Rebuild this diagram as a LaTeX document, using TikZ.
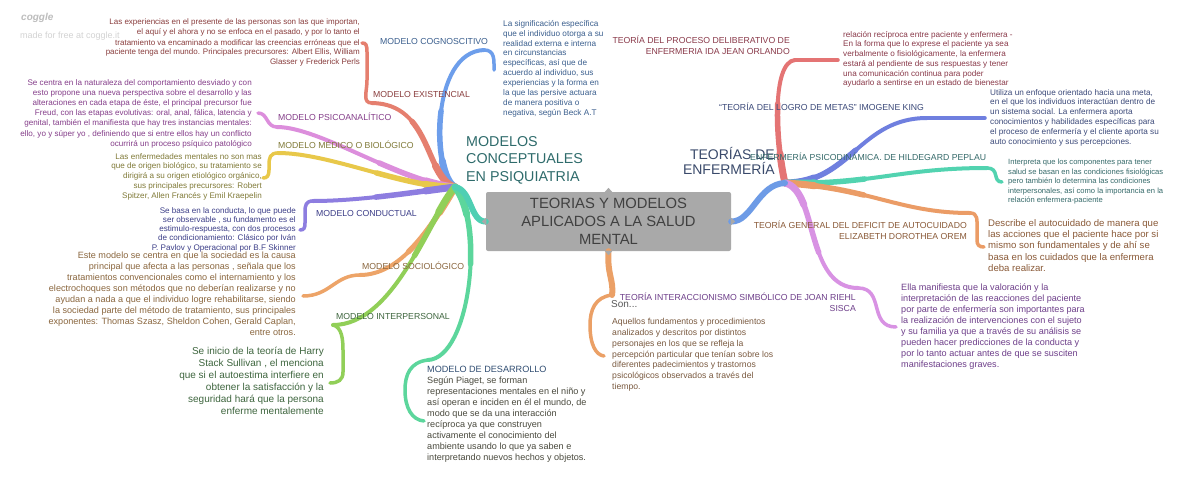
\documentclass[tikz,border=0pt]{standalone}
\usepackage{fontspec}
\setmainfont{Liberation Sans}
\usetikzlibrary{positioning}

\definecolor{boxgray}{HTML}{A9A9A9}
\definecolor{wmgray}{HTML}{BDBDBD}
\definecolor{wmlight}{HTML}{D3D3D3}
\definecolor{cTeal}{HTML}{4FCFB3}
\definecolor{cBlueR}{HTML}{6D9BE6}
\definecolor{cBot}{HTML}{EBA066}
\definecolor{cCog}{HTML}{6D9EEB}
\definecolor{cEx}{HTML}{E57F6F}
\definecolor{cPs}{HTML}{DC8EDC}
\definecolor{cMed}{HTML}{E8C84A}
\definecolor{cCon}{HTML}{8D7DE0}
\definecolor{cSoc}{HTML}{EDA468}
\definecolor{cInt}{HTML}{91CF58}
\definecolor{cDes}{HTML}{5CD69C}
\definecolor{cOrl}{HTML}{E47474}
\definecolor{cKing}{HTML}{6F7FDF}
\definecolor{cPep}{HTML}{52D3B0}
\definecolor{cOrem}{HTML}{EB9C66}
\definecolor{cSis}{HTML}{D892E3}
\definecolor{tCog}{HTML}{3B5F8E}
\definecolor{tEx}{HTML}{8A3E3E}
\definecolor{tPs}{HTML}{853E8A}
\definecolor{tMed}{HTML}{807A38}
\definecolor{tCon}{HTML}{3C3E88}
\definecolor{tSoc}{HTML}{8A663E}
\definecolor{tInt}{HTML}{3F663F}
\definecolor{tDes}{HTML}{4A4A3E}
\definecolor{tOrl}{HTML}{8A3A4A}
\definecolor{tKing}{HTML}{3C4A7A}
\definecolor{tPep}{HTML}{356A6A}
\definecolor{tOrem}{HTML}{8A5A38}
\definecolor{tSis}{HTML}{6E3F8A}
\definecolor{tBot}{HTML}{7A5A40}
\definecolor{tTitL}{HTML}{2E6B6B}
\definecolor{tTitR}{HTML}{3A4A6B}

% thick near the hub, thinner towards the end
\newcommand\branchline[2]{%
  \draw[line width=4pt, line cap=round, #1] #2;
  \draw[line width=5.5pt, line cap=round, #1, dash pattern=on 80pt off 4000pt] #2;
  \draw[line width=7pt, line cap=round, #1, dash pattern=on 30pt off 4000pt] #2;}

\begin{document}
\begin{tikzpicture}[x=1pt,y=-1pt,
  branch/.style={line width=6pt, line cap=round},
  brack/.style={line width=3.5pt, line cap=round},
  lbl/.style={inner sep=0pt, font=\fontsize{8.7}{10.8}\selectfont},
  desc/.style 2 args={inner sep=0pt, font=\fontsize{#1}{#2}\selectfont},
  mainbox/.style={fill=boxgray, rounded corners=2pt, minimum width=245pt,
    minimum height=59pt, inner sep=0pt, align=center, text=black!75,
    font=\fontsize{14.8}{18}\selectfont}]
 \fill[white] (0,0) rectangle (1200,493);
 \useasboundingbox (0,0) rectangle (1200,493);

 \node[anchor=base west, inner sep=0pt, text=wmgray, font=\fontsize{10}{12}\bfseries\itshape] (logo) at (21,20) {coggle};
 \node[anchor=base west, inner sep=0pt, text=wmlight, font=\fontsize{9}{11}\selectfont] (made) at (20,38) {made for free at coggle.it};

 \coordinate (lhub) at (455,187);
 \coordinate (rhub) at (785,183);
 \coordinate (coge) at (484,50);
 \coordinate (exe) at (372,103);
 \coordinate (pse) at (277,127);
 \coordinate (mede) at (278,153);
 \coordinate (cone) at (313,201);
 \coordinate (soce) at (360,275);
 \coordinate (inte) at (333,325);
 \coordinate (dese) at (428,360);
 \coordinate (orle) at (795,60);
 \coordinate (kinge) at (927,118);
 \coordinate (pepe) at (987,168);
 \coordinate (oreme) at (970,213);
 \coordinate (sise) at (858,288);
 \coordinate (sone) at (612,295);

 % left side
 \branchline{cCog}{(lhub) .. controls (432,175) and (430,52) .. (coge)}
 \branchline{cEx}{(lhub) .. controls (425,178) and (432,104) .. (exe)}
 \branchline{cPs}{(lhub) .. controls (400,182) and (320,127) .. (pse)}
 \branchline{cMed}{(lhub) .. controls (405,188) and (330,153) .. (mede)}
 \branchline{cCon}{(lhub) .. controls (415,192) and (360,201) .. (cone)}
 \branchline{cSoc}{(lhub) .. controls (430,230) and (400,275) .. (soce)}
 \branchline{cInt}{(lhub) .. controls (430,215) and (395,325) .. (inte)}
 \branchline{cDes}{(lhub) .. controls (485,225) and (470,358) .. (dese)}

 % right side
 \branchline{cOrl}{(rhub) .. controls (775,140) and (772,62) .. (orle)}
 \branchline{cKing}{(rhub) .. controls (850,183) and (860,118) .. (kinge)}
 \branchline{cPep}{(rhub) .. controls (870,185) and (900,168) .. (pepe)}
 \branchline{cOrem}{(rhub) .. controls (870,188) and (900,213) .. (oreme)}
 \branchline{cSis}{(rhub) .. controls (818,190) and (805,288) .. (sise)}

 \node[mainbox] (main) at (608.5,221.5) {TEORIAS Y MODELOS\\APLICADOS A LA SALUD\\MENTAL};
 \draw[branch, cTeal] (main.west) .. controls (470,222) and (472,190) .. (lhub);
 \draw[branch, cBlueR] (main.east) .. controls (752,222) and (758,184) .. (rhub);
 \draw[branch, cBot] (main.south) .. controls (607,275) and (614,280) .. (sone);
 \fill[boxgray, shift={(main.north)}] (-4,0.5) -- (0,-4) -- (4,0.5) -- cycle;
 \fill[boxgray, shift={(main.south)}] (-4,-0.5) -- (0,4) -- (4,-0.5) -- cycle;
 \fill[boxgray, shift={(main.west)}] (0.5,-4) -- (-4,0) -- (0.5,4) -- cycle;
 \fill[boxgray, shift={(main.east)}] (-0.5,-4) -- (4,0) -- (-0.5,4) -- cycle;

 \node[anchor=north west, inner sep=0pt, align=left, text=tTitL, font=\fontsize{14.3}{17.5}\selectfont] (mcp) at (466,136) {MODELOS\\CONCEPTUALES\\EN PSIQUIATRIA};
 \node[anchor=north east, inner sep=0pt, align=right, text=tTitR, font=\fontsize{14}{15.5}\selectfont] (tde) at (775,147) {TEORÍAS DE\\ENFERMERÍA};

 % connectors to the texts
 \draw[brack, cCog] (coge) .. controls (495,50) and (494,60) .. (494,70);
 \draw[brack, cEx] (exe) .. controls (362,103) and (367,92) .. (367,80) -- (367,52) .. controls (367,45) and (366,43) .. (362,43);
 \draw[brack, cPs] (pse) .. controls (266,127) and (268,113) .. (258,113);
 \draw[brack, cMed] (mede) .. controls (270,153) and (269,158) .. (269,165) -- (269,170) .. controls (269,176) and (267,178) .. (263,178);
 \draw[brack, cCon] (cone) .. controls (306,201) and (305,205) .. (305,212) -- (305,223) .. controls (305,228) and (304,230) .. (300,230);
 \draw[brack, cSoc] (soce) .. controls (335,275) and (330,296) .. (303,296);
 \draw[brack, cInt] (inte) .. controls (342,327) and (343,340) .. (343,350) -- (343,372) .. controls (343,380) and (338,383) .. (330,383);
 \draw[brack, cDes] (dese) .. controls (410,362) and (405,375) .. (405,390) .. controls (405,408) and (412,420) .. (424,421);
 \draw[brack, cOrl] (orle) -- (838,60);
 \draw[brack, cKing] (kinge) -- (985,118);
 \draw[brack, cPep] (pepe) .. controls (1000,168) and (992,182) .. (1002,182);
 \draw[brack, cOrem] (oreme) .. controls (978,213) and (977,220) .. (977,228) -- (977,240) .. controls (977,245) and (979,247) .. (984,247);
 \draw[brack, cSis] (sise) .. controls (885,288) and (868,327) .. (896,327);
 \draw[brack, cBot] (sone) .. controls (595,297) and (590,310) .. (590,325) .. controls (590,345) and (596,355) .. (604,356);

 % labels
 \node[lbl, anchor=base west, text=tCog] (cog) at (380,44) {MODELO COGNOSCITIVO};
 \node[lbl, anchor=base west, text=tEx] (ex) at (373,97) {MODELO EXISTENCIAL};
 \node[lbl, anchor=base west, text=tPs] (ps) at (278,120) {MODELO PSICOANALÍTICO};
 \node[lbl, anchor=base west, text=tMed] (med) at (278,148) {MODELO MÉDICO O BIOLÓGICO};
 \node[lbl, anchor=base west, text=tCon] (con) at (316,216) {MODELO CONDUCTUAL};
 \node[lbl, anchor=base west, text=tSoc] (soc) at (362,269) {MODELO SOCIOLÓGICO};
 \node[lbl, anchor=base west, text=tInt] (int) at (336,319) {MODELO INTERPERSONAL};
 \node[lbl, anchor=north east, align=right, text=tOrl] (orl) at (790,36) {TEORÍA DEL PROCESO DELIBERATIVO DE\\ENFERMERIA IDA JEAN ORLANDO};
 \node[lbl, anchor=base west, text=tKing] (king) at (719,110) {“TEORÍA DEL LOGRO DE METAS” IMOGENE KING};
 \node[lbl, anchor=base west, text=tPep] (pep) at (750,160) {ENFERMERÍA PSICODINÁMICA. DE HILDEGARD PEPLAU};
 \node[lbl, anchor=north east, align=right, text=tOrem] (orem) at (967,221) {TEORÍA GENERAL DEL DEFICIT DE AUTOCUIDADO\\ELIZABETH DOROTHEA OREM};
 \node[lbl, anchor=north east, align=right, text=tSis] (sis) at (856,293) {TEORÍA INTERACCIONISMO SIMBÓLICO DE JOAN RIEHL\\SISCA};
 \node[anchor=base west, inner sep=0pt, text=black!65, font=\fontsize{10}{12}\selectfont] (son) at (611,307) {Son...};

 % texts
 \node[desc={8}{10}, anchor=north east, align=right, text=tEx] (exd) at (360,19) {Las experiencias en el presente de las personas son las que importan,\\el aquí y el ahora y no se enfoca en el pasado, y por lo tanto el\\tratamiento va encaminado a modificar las creencias erróneas que el\\paciente tenga del mundo. Principales precursores: Albert Ellis, William\\Glasser y Frederick Perls};
 \node[desc={8.2}{9.9}, anchor=north west, align=left, text=tCog] (cogd) at (503,20) {La significación específica\\que el individuo otorga a su\\realidad externa e interna\\en circunstancias\\específicas, así que de\\acuerdo al individuo, sus\\experiencias y la forma en\\la que las persive actuara\\de manera positiva o\\negativa, según Beck A.T};
 \node[desc={8.1}{10.2}, anchor=north east, align=right, text=tPs] (psd) at (252,79) {Se centra en la naturaleza del comportamiento desviado y con\\esto propone una nueva perspectiva sobre el desarrollo y las\\alteraciones en cada etapa de éste, el principal precursor fue\\Freud, con las etapas evolutivas: oral, anal, fálica, latencia y\\genital, también el manifiesta que hay tres instancias mentales:\\ello, yo y súper yo , definiendo que si entre ellos hay un conflicto\\ocurrirá un proceso psíquico patológico};
 \node[desc={8.1}{9.8}, anchor=north east, align=right, text=tMed] (medd) at (262,153) {Las enfermedades mentales no son mas\\que de origen biológico, su tratamiento se\\dirigirá a su origen etiológico orgánico,\\sus principales precursores: Robert\\Spitzer, Allen Francés y Emil Kraepelin};
 \node[desc={8.1}{9.3}, anchor=north east, align=right, text=tCon] (cond) at (296,207) {Se basa en la conducta, lo que puede\\ser observable , su fundamento es el\\estimulo-respuesta, con dos procesos\\de condicionamiento: Clásico por Iván\\P. Pavlov y Operacional por B.F Skinner};
 \node[desc={9.1}{11.1}, anchor=north east, align=right, text=tSoc] (socd) at (296,251.5) {Este modelo se centra en que la sociedad es la causa\\principal que afecta a las personas , señala que los\\tratamientos convencionales como el internamiento y los\\electrochoques son métodos que no deberían realizarse y no\\ayudan a nada a que el individuo logre rehabilitarse, siendo\\la sociedad parte del método de tratamiento, sus principales\\exponentes: Thomas Szasz, Sheldon Cohen, Gerald Caplan,\\entre otros.};
 \node[desc={10}{12}, anchor=north east, align=right, text=tInt] (intd) at (324,347) {Se inicio de la teoría de Harry\\Stack Sullivan , el menciona\\que si el autoestima interfiere en\\obtener la satisfacción y la\\seguridad hará que la persona\\enferme mentalemente};
 \node[desc={9.1}{11.05}, anchor=north west, align=left, text=tDes] (desd) at (427,366) {\textcolor{tCog!80!black}{MODELO DE DESARROLLO}\\Según Piaget, se forman\\representaciones mentales en el niño y\\así operan e inciden en él el mundo, de\\modo que se da una interacción\\recíproca ya que construyen\\activamente el conocimiento del\\ambiente usando lo que ya saben e\\interpretando nuevos hechos y objetos.};
 \node[desc={8.15}{9.7}, anchor=north west, align=left, text=tOrl] (orld) at (843,31) {relación recíproca entre paciente y enfermera -\\En la forma que lo exprese el paciente ya sea\\verbalmente o fisiológicamente, la enfermera\\estará al pendiente de sus respuestas y tener\\una comunicación continua para poder\\ayudarlo a sentirse en un estado de bienestar};
 \node[desc={8.2}{9.8}, anchor=north west, align=left, text=tKing] (kingd) at (990,89) {Utiliza un enfoque orientado hacia una meta,\\en el que los individuos interactúan dentro de\\un sistema social. La enfermera aporta\\conocimientos y habilidades específicas para\\el proceso de enfermería y el cliente aporta su\\auto conocimiento y sus percepciones.};
 \node[desc={7.6}{9.5}, anchor=north west, align=left, text=tPep] (pepd) at (1008,159) {Interpreta que los componentes para tener\\salud se basan en las condiciones fisiológicas\\pero también lo determina las condiciones\\interpersonales, así como la importancia en la\\relación enfermera-paciente};
 \node[desc={9.6}{11.3}, anchor=north west, align=left, text=tOrem] (oremd) at (988,219) {Describe el autocuidado de manera que\\las acciones que el paciente hace por si\\mismo son fundamentales y de ahí se\\basa en los cuidados que la enfermera\\deba realizar.};
 \node[desc={9.1}{11.05}, anchor=north west, align=left, text=tSis] (sisd) at (901,283.5) {Ella manifiesta que la valoración y la\\interpretación de las reacciones del paciente\\por parte de enfermería son importantes para\\la realización de intervenciones con el sujeto\\y su familia ya que a través de su análisis se\\pueden hacer predicciones de la conducta y\\por lo tanto actuar antes de que se susciten\\manifestaciones graves.};
 \node[desc={8.65}{10.7}, anchor=north west, align=left, text=tBot] (sond) at (612,318.5) {Aquellos fundamentos y procedimientos\\analizados y descritos por distintos\\personajes en los que se refleja la\\percepción particular que tenían sobre los\\diferentes padecimientos y trastornos\\psicológicos observados a través del\\tiempo.};
\end{tikzpicture}
\end{document}
